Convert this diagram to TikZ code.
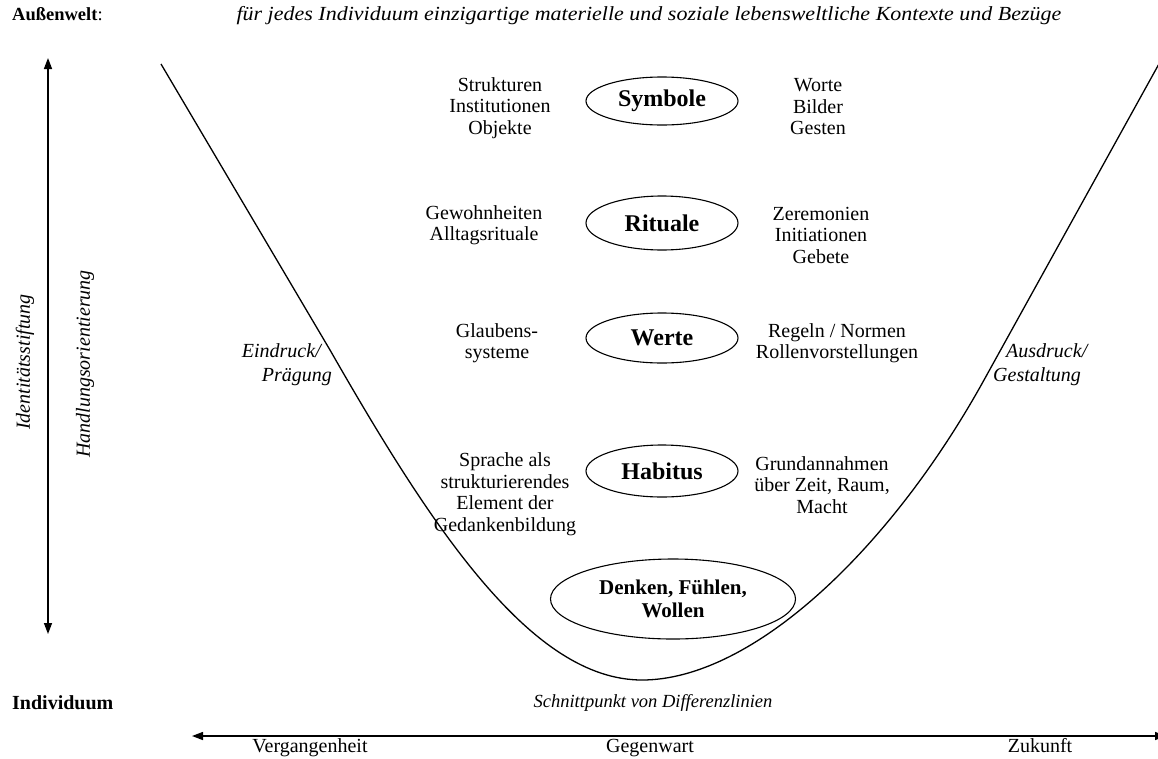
\documentclass[tikz,border=0pt]{standalone}
\usepackage{fontspec}
\setmainfont{Liberation Serif}
\newfontfamily\widefont[FakeStretch=1.1]{Liberation Serif}
\usetikzlibrary{arrows.meta,shapes.geometric}
\begin{document}
\begin{tikzpicture}[x=1pt,y=-1pt,
  txt/.style={font=\fontsize{20}{21.5}\selectfont, align=center, inner sep=0pt},
  itx/.style={font=\fontsize{20}{21.5}\selectfont\itshape, inner sep=0pt},
  ell/.style={draw, ellipse, line width=1.1pt, minimum width=152pt, minimum height=52pt, inner sep=0pt, font=\fontsize{24}{26}\selectfont\bfseries},
  arr/.style={line width=1.4pt, {Triangle[length=11pt,width=8pt]}-{Triangle[length=11pt,width=8pt]}},
  curve/.style={line width=1.3pt}
]
\useasboundingbox (0,0) rectangle (1158,758);

% headers
\node[txt, anchor=base west, font=\fontsize{18.5}{21.5}\selectfont] (aussen) at (12,20) {\textbf{Außenwelt}:};
\node[itx, anchor=base, font=\widefont\fontsize{20}{21.5}\selectfont\itshape] (kontext) at (649,20) {für jedes Individuum einzigartige materielle und soziale lebensweltliche Kontexte und Bezüge};
\node[txt, anchor=base west, font=\fontsize{20}{21.5}\selectfont\bfseries] (indiv) at (12,709) {Individuum};
\node[itx, anchor=base, font=\fontsize{18.5}{21.5}\selectfont\itshape] (schnitt) at (653,707) {Schnittpunkt von Differenzlinien};

% vertical axis
\coordinate (vtop) at (48,58);
\coordinate (vbot) at (48,634);
\draw[arr] (vbot) -- (vtop);
\node[itx, rotate=90] (ident) at (25,362) {Identitätsstiftung};
\node[itx, rotate=90] (handl) at (85,364) {Handlungsorientierung};

% horizontal axis
\coordinate (hleft) at (192,736);
\coordinate (hright) at (1166,736);
\draw[arr] (hleft) -- (hright);
\node[txt, anchor=base] (verg) at (310,752) {Vergangenheit};
\node[txt, anchor=base] (gegen) at (650,752) {Gegenwart};
\node[txt, anchor=base] (zuk) at (1040,752) {Zukunft};

% curve
\coordinate (cl) at (161,64);
\coordinate (cl2) at (330,350);
\coordinate (cmin) at (642,680);
\coordinate (cr2) at (984,380);
\coordinate (cr) at (1160,62);
\draw[curve] (cl) -- (cl2) .. controls (433,530) and (532,680) .. (cmin)
  .. controls (752,680) and (890,550) .. (cr2) -- (cr);

\node[itx, anchor=base east] (eindruck) at (321,357) {Eindruck/};
\node[itx, anchor=base east] (praeg) at (332,381) {Prägung};
\node[itx, anchor=base west] (ausdruck) at (1006,357) {Ausdruck/};
\node[itx, anchor=base west] (gestalt) at (993,381) {Gestaltung};

% ellipses
\node[ell, minimum height=48pt] (symbole) at (662,101) {Symbole};
\node[ell, minimum height=54pt] (rituale) at (662,223) {Rituale};
\node[ell, minimum height=50pt] (werte) at (662,338) {Werte};
\node[ell] (habitus) at (662,471) {Habitus};
\node[ell, minimum width=245pt, minimum height=80pt, align=center, font=\fontsize{21}{23}\selectfont\bfseries] (denken) at (673,599) {Denken, Fühlen,\\Wollen};

% side texts
\node[txt] (strukt) at (500,108) {Strukturen\\Institutionen\\Objekte};
\node[txt] (worte) at (818,107) {Worte\\Bilder\\Gesten};
\node[txt] (gewohn) at (484,225) {Gewohnheiten\\Alltagsrituale};
\node[txt] (zerem) at (821,235) {Zeremonien\\Initiationen\\Gebete};
\node[txt] (glaub) at (497,343) {Glaubens-\\systeme};
\node[txt] (regeln) at (837,343) {Regeln / Normen\\Rollenvorstellungen};
\node[txt] (sprache) at (505,494) {Sprache als\\strukturierendes\\Element der\\Gedankenbildung};
\node[txt] (grund) at (822,485) {Grundannahmen\\über Zeit, Raum,\\Macht};
\end{tikzpicture}
\end{document}
